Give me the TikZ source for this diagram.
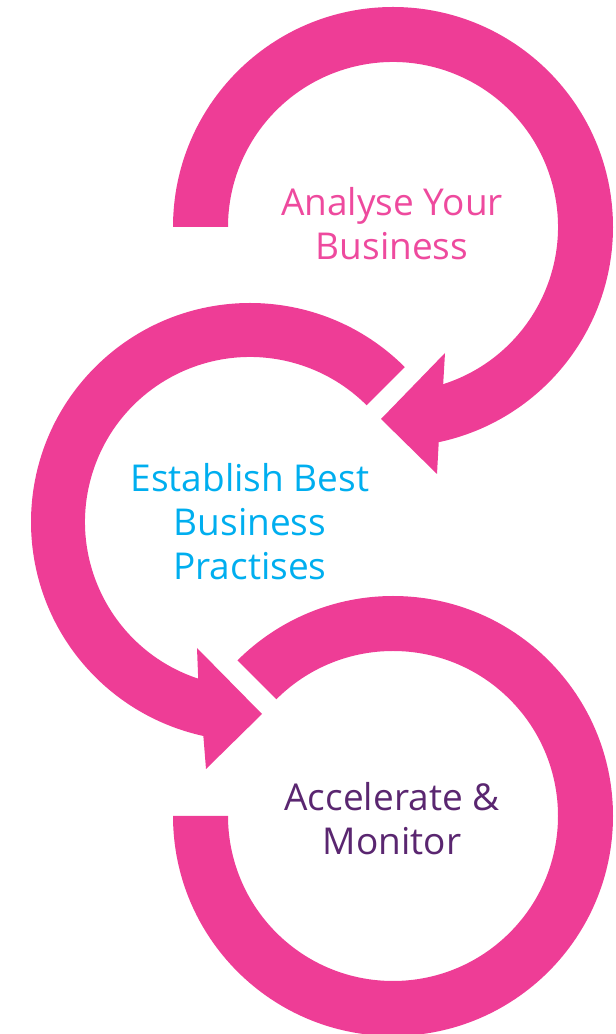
\documentclass[tikz,border=0pt]{standalone}
\usepackage{fontspec}
\setmainfont{Open Sans}
\usetikzlibrary{calc}
\definecolor{ringpink}{HTML}{EE3D96}
\definecolor{txtpink}{HTML}{EE4A9E}
\definecolor{txtcyan}{HTML}{00AEEF}
\definecolor{txtpurple}{HTML}{5A2670}
\tikzset{
  ring/.style={fill=ringpink},
  label/.style={align=center, anchor=base, inner sep=0pt,
    font=\fontsize{37}{44}\selectfont}
}
\begin{document}
\begin{tikzpicture}[x=1pt,y=1pt]
\useasboundingbox (0,0) rectangle (616,1034);
\coordinate (c1) at (393,807);
\coordinate (c2) at (250,512);
\coordinate (c3) at (393,218);
% ring 1
\fill[ring] ($(c1)+(180:220)$) arc[start angle=180,end angle=-78,radius=220]
  -- (437,560) -- (381,615) -- (445,681)
  -- ($(c1)+(-72.3:165)$) arc[start angle=-72.3,end angle=180,radius=165] -- cycle;
% ring 2
\fill[ring] ($(c2)+(45:219)$) arc[start angle=45,end angle=257.7,radius=219]
  -- (206,265) -- (262,320) -- (197,386)
  -- ($(c2)+(251.7:165)$) arc[start angle=251.7,end angle=45,radius=165] -- cycle;
% ring 3
\fill[ring] ($(c3)+(180:220)$) arc[start angle=180,end angle=495,radius=220]
  -- ($(c3)+(135:165)$) arc[start angle=135,end angle=-180,radius=165] -- cycle;
% labels
\node[label, text=txtpink] (t1) at (392,774) {Analyse Your\\Business};
\node[label, text=txtcyan] (t2) at (250,454) {Establish Best\\Business\\Practises};
\node[label, text=txtpurple] (t3) at (392,179) {Accelerate \&\\Monitor};
\end{tikzpicture}
\end{document}
